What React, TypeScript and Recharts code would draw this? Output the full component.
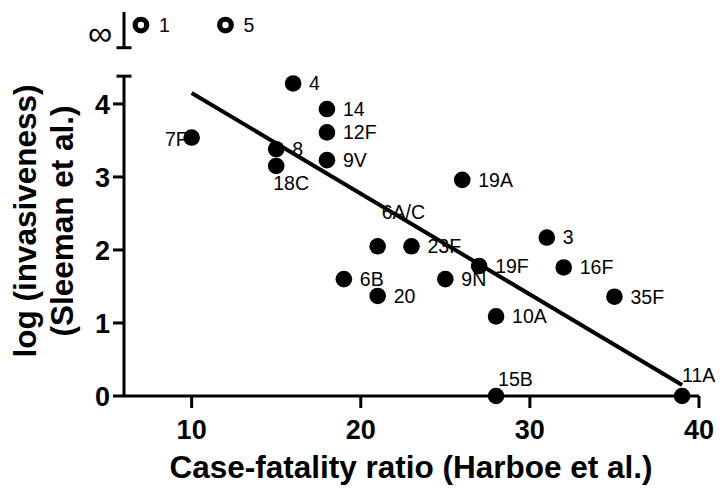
import React from 'react';
import { ScatterChart, Scatter, XAxis, YAxis, ReferenceLine } from 'recharts';

// ---------- data ----------
const serotypes = ['4', '14', '12F', '9V', '7F', '8', '18C', '19A', '6A/C', '23F', '19F', '6B', '20', '9N', '10A', '3', '16F', '35F', '15B', '11A'];
const caseFatality = [16, 18, 18, 18, 10, 15, 15, 26, 21, 23, 27, 19, 21, 25, 28, 31, 32, 35, 28, 39];
const logInvasiveness = [4.28, 3.93, 3.61, 3.23, 3.54, 3.38, 3.15, 2.96, 2.05, 2.05, 1.78, 1.6, 1.37, 1.6, 1.09, 2.17, 1.76, 1.36, 0, 0];

// serotypes with infinite invasiveness (plotted on the broken axis segment)
const infiniteSerotypes = ['1', '5'];
const infiniteCaseFatality = [7, 12];

// regression line end points
const fitX = [10, 39];
const fitY = [4.15, 0.15];

const xTicks = [10, 20, 30, 40];
const yTicks = [0, 1, 2, 3, 4];

// ---------- layout / style ----------
const X_DOMAIN: [number, number] = [6, 40];
const Y_DOMAIN: [number, number] = [0, 5.3];
const Y_AXIS_TOP = 4.38;
const INF_SEG: [number, number] = [4.77, 5.26];
const INF_Y = 5.08;
const FONT = 'Arial, "Liberation Sans", Helvetica, sans-serif';

// label placement: [dx, dy, anchor]
const labelPlacement: Record<string, [number, number, 'start' | 'end']> = {
  '7F': [-4, 2, 'end'],
  '18C': [-3, 17, 'start'],
  '6A/C': [4, -34, 'start'],
  '15B': [2, -17, 'start'],
  '11A': [0, -21, 'start'],
};

const points = serotypes.map((s, i) => ({ name: s, x: caseFatality[i], y: logInvasiveness[i] }));
const infPoints = infiniteSerotypes.map((s, i) => ({ name: s, x: infiniteCaseFatality[i], y: INF_Y }));
const fitData = fitX.map((x, i) => ({ x, y: fitY[i] }));

const LabelShape = (p: any) => {
  const name = p.payload?.name ?? p.name;
  const pl = labelPlacement[name] || [16, 0, 'start'];
  return (
    <text
      x={p.cx + pl[0]}
      y={p.cy + pl[1]}
      dy="0.355em"
      textAnchor={pl[2]}
      fontFamily={FONT}
      fontSize={19.5}
      fill="#000"
    >
      {name}
    </text>
  );
};

const DotShape = (p: any) => <circle cx={p.cx} cy={p.cy} r={8.3} fill="#000" />;

const RingShape = (p: any) => (
  <g>
    <circle cx={p.cx} cy={p.cy} r={5.8} fill="#fff" stroke="#000" strokeWidth={5.2} />
    <text x={p.cx + 18} y={p.cy} dy="0.355em" fontFamily={FONT} fontSize={19.5} fill="#000">
      {p.payload?.name}
    </text>
  </g>
);

const MainAxisShape = (p: any) => (
  <g>
    <line x1={p.x1} y1={p.y1} x2={p.x2} y2={p.y2} stroke="#000" strokeWidth={3} />
    <line x1={p.x2 - 7.5} y1={p.y2} x2={p.x2 + 7.5} y2={p.y2} stroke="#000" strokeWidth={3} />
  </g>
);

const InfAxisShape = (p: any) => (
  <g>
    <line x1={p.x1} y1={p.y1} x2={p.x2} y2={p.y2} stroke="#000" strokeWidth={3} />
    <line x1={p.x1 - 7.5} y1={p.y1} x2={p.x1 + 7.5} y2={p.y1} stroke="#000" strokeWidth={3} />
    <text x={p.x1 - 24} y={p.y1 - 13} dy="0.3em" textAnchor="middle" fontFamily={FONT} fontSize={34} fill="#000">
      ∞
    </text>
  </g>
);

const XTitle = () => (
  <text x={411} y={478} textAnchor="middle" fontFamily={FONT} fontWeight="bold" fontSize={31.5} fill="#000">
    Case-fatality ratio (Harboe et al.)
  </text>
);

const YTitle = () => (
  <g fontFamily={FONT} fontWeight="bold" fontSize={31.5} fill="#000">
    <text x={36} y={221} textAnchor="middle" transform="rotate(-90 36 221)">
      log (invasiveness)
    </text>
    <text x={73} y={221} textAnchor="middle" transform="rotate(-90 73 221)">
      (Sleeman et al.)
    </text>
  </g>
);

export default function App() {
  return (
    <div style={{ position: 'absolute', left: 0, top: 0, background: '#fff' }}>
      <ScatterChart width={723} height={492} margin={{ top: 9, right: 24, bottom: 0, left: 1 }}>
        <XAxis
          type="number"
          dataKey="x"
          domain={X_DOMAIN}
          ticks={xTicks}
          height={96}
          axisLine={{ stroke: '#000', strokeWidth: 3 }}
          tickLine={{ stroke: '#000', strokeWidth: 3 }}
          tickSize={12}
          tickMargin={12}
          tick={{ fill: '#000', fontFamily: FONT, fontWeight: 'bold', fontSize: 27 }}
          label={{ content: () => <XTitle /> }}
        />
        <YAxis
          type="number"
          dataKey="y"
          domain={Y_DOMAIN}
          ticks={yTicks}
          width={123}
          axisLine={false}
          tickLine={{ stroke: '#000', strokeWidth: 3 }}
          tickSize={11}
          tickMargin={3}
          tick={{ fill: '#000', fontFamily: FONT, fontWeight: 'bold', fontSize: 27 }}
          label={{ content: () => <YTitle /> }}
        />
        <ReferenceLine
          segment={[{ x: X_DOMAIN[0], y: 0 }, { x: X_DOMAIN[0], y: Y_AXIS_TOP }]}
          ifOverflow="visible"
          shape={MainAxisShape}
        />
        <ReferenceLine
          segment={[{ x: X_DOMAIN[0], y: INF_SEG[0] }, { x: X_DOMAIN[0], y: INF_SEG[1] }]}
          ifOverflow="visible"
          shape={InfAxisShape}
        />
        <Scatter data={points} shape={LabelShape} isAnimationActive={false} />
        <Scatter
          data={fitData}
          line={{ stroke: '#000', strokeWidth: 4 }}
          lineType="joint"
          shape={() => <g />}
          isAnimationActive={false}
        />
        <Scatter data={points} shape={DotShape} isAnimationActive={false} />
        <Scatter data={infPoints} shape={RingShape} isAnimationActive={false} />
      </ScatterChart>
    </div>
  );
}
